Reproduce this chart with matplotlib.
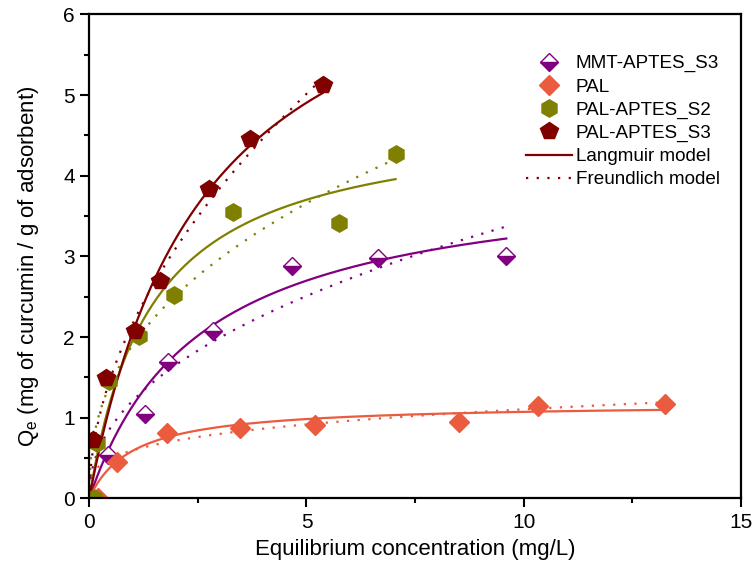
import numpy as np
import matplotlib
matplotlib.use("Agg")
import matplotlib.pyplot as plt
from matplotlib.lines import Line2D
from matplotlib.ticker import MultipleLocator

plt.rcParams["font.family"] = ["Liberation Sans", "DejaVu Sans"]

# equilibrium data: Ce (mg/L) vs Qe (mg/g)
mmt_s3_c = [0.44, 1.28, 1.82, 2.84, 4.67, 6.65, 9.60]
mmt_s3_q = [0.54, 1.05, 1.69, 2.07, 2.88, 2.98, 3.00]

pal_c = [0.20, 0.63, 1.78, 3.47, 5.20, 8.52, 10.32, 13.26]
pal_q = [0.00, 0.45, 0.81, 0.87, 0.91, 0.95, 1.14, 1.17]

pal_s2_c = [0.10, 0.17, 0.46, 1.14, 1.96, 3.32, 5.74, 7.05]
pal_s2_q = [0.00, 0.69, 1.45, 2.01, 2.52, 3.55, 3.42, 4.27]

pal_s3_c = [0.09, 0.38, 1.05, 1.64, 2.76, 3.70, 5.37]
pal_s3_q = [0.72, 1.49, 2.07, 2.69, 3.83, 4.455, 5.12]

# fitted isotherm parameters: Langmuir (qm, KL), Freundlich (KF, 1/n)
mmt_s3_langmuir = (4.08, 0.391)
mmt_s3_freundlich = (1.21, 0.453)
pal_langmuir = (1.18, 1.00)
pal_freundlich = (0.595, 0.2685)
pal_s2_langmuir = (4.76, 0.70)
pal_s2_freundlich = (1.90, 0.407)
pal_s3_langmuir = (7.50, 0.378)
pal_s3_freundlich = (2.165, 0.522)

C_MMT = "#800080"
C_PAL = "#EA5B3F"
C_S2 = "#808000"
C_S3 = "#800000"


def langmuir(c, qm, k):
    return qm * k * c / (1 + k * c)


def freundlich(c, kf, inv_n):
    return kf * c ** inv_n


fig = plt.figure(figsize=(7.53, 5.66), dpi=100)
ax = fig.add_axes([0.1185, 0.1195, 0.8655, 0.855])

series = [
    (mmt_s3_c, mmt_s3_q, mmt_s3_langmuir, mmt_s3_freundlich, C_MMT),
    (pal_c, pal_q, pal_langmuir, pal_freundlich, C_PAL),
    (pal_s2_c, pal_s2_q, pal_s2_langmuir, pal_s2_freundlich, C_S2),
    (pal_s3_c, pal_s3_q, pal_s3_langmuir, pal_s3_freundlich, C_S3),
]
dotted = (0, (1, 3.8))
for c, q, lp, fp, col in series:
    xs = np.linspace(0, max(c), 200)
    ax.plot(xs, langmuir(xs, *lp), color=col, lw=1.6, zorder=2)
    xf = np.linspace(0.005, max(c), 200)
    ax.plot(xf, freundlich(xf, *fp), color=col, lw=1.6, ls=dotted, zorder=2)

mk = dict(ls="none", zorder=3)
ax.plot(mmt_s3_c, mmt_s3_q, marker="D", ms=9.5, color=C_MMT, fillstyle="bottom",
        markerfacecoloralt="white", mec=C_MMT, mew=1.0, **mk)
ax.plot(pal_c, pal_q, marker="D", ms=10, color=C_PAL, mec=C_PAL, **mk)
ax.plot(pal_s2_c, pal_s2_q, marker="h", ms=12.5, color=C_S2, mec=C_S2, **mk)
ax.plot(pal_s3_c, pal_s3_q, marker="p", ms=13, color=C_S3, mec=C_S3, **mk)

ax.set_xlim(0, 15)
ax.set_ylim(0, 6)
ax.xaxis.set_major_locator(MultipleLocator(5))
ax.xaxis.set_minor_locator(MultipleLocator(2.5))
ax.yaxis.set_major_locator(MultipleLocator(1))
ax.yaxis.set_minor_locator(MultipleLocator(0.5))
ax.tick_params(which="both", direction="out", top=False, right=False,
               width=1.5, labelsize=15, pad=4)
ax.tick_params(which="major", length=6.5)
ax.tick_params(which="minor", length=3.5)
for sp in ax.spines.values():
    sp.set_linewidth(1.6)
    sp.set_zorder(4)

ax.set_xlabel("Equilibrium concentration (mg/L)", fontsize=16, labelpad=5)
ax.set_ylabel("Q$_\\mathregular{e}$ (mg of curcumin / g of adsorbent)", fontsize=16,
              labelpad=16)
ax.yaxis.label.set_y(0.48)

handles = [
    Line2D([], [], marker="D", ms=9.5, color=C_MMT, fillstyle="bottom",
           markerfacecoloralt="white", mec=C_MMT, mew=1.0, ls="none"),
    Line2D([], [], marker="D", ms=10, color=C_PAL, ls="none"),
    Line2D([], [], marker="h", ms=12.5, color=C_S2, ls="none"),
    Line2D([], [], marker="p", ms=13, color=C_S3, ls="none"),
    Line2D([], [], color=C_S3, lw=1.6),
    Line2D([], [], color=C_S3, lw=1.6, ls=dotted),
]
labels = ["MMT-APTES_S3", "PAL", "PAL-APTES_S2", "PAL-APTES_S3",
          "Langmuir model", "Freundlich model"]
ax.legend(handles, labels, loc="upper left", bbox_to_anchor=(0.67, 0.916),
          frameon=False, fontsize=13.6, handlelength=2.45, handletextpad=0.2,
          labelspacing=0.31, borderpad=0, borderaxespad=0, numpoints=1)

fig.savefig("out.png", dpi=100)
